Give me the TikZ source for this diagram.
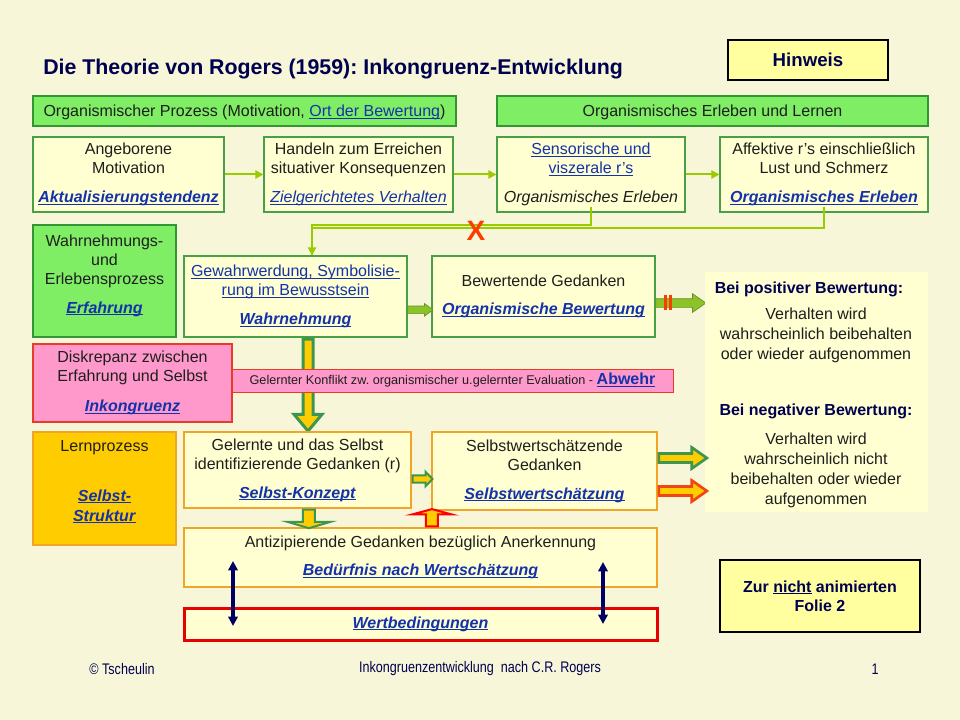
\documentclass[tikz,border=0pt]{standalone}
\usepackage{fontspec}
\setmainfont{Liberation Sans}
\newfontfamily\narrowfont[FakeStretch=0.82]{Liberation Sans}
\usetikzlibrary{arrows.meta,shapes.arrows}
\frenchspacing

\definecolor{bgcol}{RGB}{248,246,216}
\definecolor{boxfill}{RGB}{255,255,210}
\definecolor{hintfill}{RGB}{255,255,160}
\definecolor{barfill}{RGB}{128,238,100}
\definecolor{bargreen}{RGB}{50,150,50}
\definecolor{boxgreen}{RGB}{70,160,70}
\definecolor{boxorange}{RGB}{240,165,40}
\definecolor{lernfill}{RGB}{255,204,0}
\definecolor{pinkfill}{RGB}{255,153,204}
\definecolor{pinkline}{RGB}{230,60,40}
\definecolor{feedgreen}{RGB}{153,204,0}
\definecolor{linkblue}{RGB}{20,50,170}
\definecolor{navytxt}{RGB}{0,0,80}
\definecolor{txtcol}{RGB}{30,30,30}
\definecolor{crossred}{RGB}{255,60,0}
\definecolor{arrgreen}{RGB}{60,150,80}
\definecolor{arryellow}{RGB}{255,204,0}
\definecolor{arrlime}{RGB}{140,195,40}
\definecolor{arrred}{RGB}{240,70,20}
\definecolor{uparrred}{RGB}{255,0,0}
\definecolor{navyline}{RGB}{0,0,100}
\definecolor{wertred}{RGB}{230,0,0}

\newcommand\ulin[1]{\setbox0=\hbox{#1}\rlap{\rule[-1.4pt]{\wd0}{0.7pt}}\box0\relax}
\newcommand\lnk[1]{\textcolor{linkblue}{\ulin{#1}}}
\newcommand\lnkbi[1]{\textcolor{linkblue}{\ulin{\textbf{\textit{#1}}}}}

\tikzset{
	every node/.style={text=txtcol},
	wh/.style 2 args={minimum width=#1*0.75pt, minimum height=#2*0.75pt},
	box/.style={draw=boxgreen, fill=boxfill, line width=0.8pt, inner sep=0pt, align=center, font=\fontsize{12}{14.5}\selectfont},
	obox/.style={box, draw=boxorange},
	gbar/.style={box, draw=bargreen, fill=barfill, text height=11pt, text depth=2pt},
	hint/.style={draw=black, fill=hintfill, line width=0.8pt, align=center, text=navytxt, font=\bfseries\fontsize{12}{14.5}\selectfont},
	head/.style={text=navytxt, font=\bfseries\fontsize{12}{15}\selectfont},
	ptxt/.style={align=center, text=txtcol, font=\fontsize{12}{15}\selectfont},
	foot/.style={text=navytxt, font=\narrowfont\fontsize{11.5}{14}\selectfont},
	feed/.style={draw=feedgreen, line width=1.5pt},
	feedarr/.style={feed, -{Triangle[length=6pt,width=6pt]}},
	blk/.style={single arrow, inner xsep=0pt, anchor=tail},
	stopbar/.style={draw=crossred, line width=2pt},
	navyarr/.style={draw=navyline, line width=2.4pt, {Triangle[length=7pt,width=7pt]}-{Triangle[length=7pt,width=7pt]}},
}

\begin{document}
\begin{tikzpicture}[x=0.75pt, y=-0.75pt]
	\fill[bgcol] (0,0) rectangle (960,720);
	\useasboundingbox (0,0) rectangle (960,720);

	\node[anchor=west, inner sep=0pt, text=navytxt, font=\bfseries\fontsize{16}{19}\selectfont] (title) at (43,69) {Die Theorie von Rogers (1959): Inkongruenz-Entwicklung};
	\node[hint, wh={160}{40}, font=\bfseries\fontsize{14}{17}\selectfont] (hinweis) at (808,60) {Hinweis};

	% obere Reihe
	\node[gbar, wh={423}{30}] (orgL) at (244.5,111) {Organismischer Prozess (Motivation, \lnk{Ort der Bewertung})};
	\node[gbar, wh={431}{30}] (orgR) at (712.5,111) {Organismisches Erleben und Lernen};
	\node[box, wh={191}{75}] (angeb) at (128.5,174.5) {Angeborene\\Motivation\\[7pt]\lnkbi{Aktualisierungstendenz}};
	\node[box, wh={189}{75}] (handeln) at (358.5,174.5) {Handeln zum Erreichen\\situativer Konsequenzen\\[7pt]\lnk{\textit{Zielgerichtetes Verhalten}}};
	\node[box, wh={188}{75}] (sensor) at (591,174.5) {\lnk{Sensorische und}\\\lnk{viszerale r's}\\[7pt]\textit{Organismisches Erleben}};
	\node[box, wh={208}{75}] (affekt) at (824,174.5) {Affektive r's einschließlich\\Lust und Schmerz\\[7pt]\lnkbi{Organismisches Erleben}};
	\draw[feedarr] (angeb) -- (handeln);
	\draw[feedarr] (handeln) -- (sensor);
	\draw[feedarr] (sensor) -- (affekt);

	% Wahrnehmung und Bewertung
	\node[gbar, wh={143}{112}, text height=, text depth=] (wahrn) at (104.5,281) {};
	\node[ptxt, font=\fontsize{12}{14.25}\selectfont] (wahrntxt) at (104.5,276) {Wahrnehmungs-\\und\\Erlebensprozess\\[7pt]\lnkbi{Erfahrung}};
	\node[box, wh={223}{81}] (gew) at (295.5,296.5) {\lnk{Gewahrwerdung, Symbolisie-}\\\lnk{rung im Bewusstsein}\\[7pt]\lnkbi{Wahrnehmung}};
	\node[box, wh={223}{81}] (bew) at (543.5,296.5) {Bewertende Gedanken\\[7pt]\lnkbi{Organismische Bewertung}};

	\coordinate (bendC) at (312,225);
	\coordinate (bendD) at (312,228);
	\draw[feed] ([yshift=4.5pt]sensor.south) |- (bendC) -- (bendC |- gew.north);
	\draw[feedarr] ([yshift=4.5pt]affekt.south) |- (bendD) -- (bendD |- gew.north);
	\node[text=crossred, font=\bfseries\fontsize{21}{24}\selectfont] (cross) at (476,231) {X};

	\node[blk, draw=arrlime!75!black, fill=arrlime, line width=0.5pt, minimum height=18.75pt, inner ysep=2.6pt, single arrow head extend=1.9pt, single arrow tip angle=74] (gewarr) at ([yshift=-10pt]gew.east) {};
	\node[blk, draw=arrlime!75!black, fill=arrlime, line width=0.5pt, minimum height=37.5pt, inner ysep=3pt, single arrow head extend=3.75pt, single arrow tip angle=70] (bewarr) at ([yshift=-4.9pt]bew.east) {};
	\draw[stopbar] ([xshift=7.5pt,yshift=6pt]bewarr.tail) -- ++(0,-11pt);
	\draw[stopbar] ([xshift=11.25pt,yshift=6pt]bewarr.tail) -- ++(0,-11pt);

	% rechte Tafel
	\node[fill=boxfill, wh={223}{240}] (panel) at (816.5,392) {};
	\node[head] (poshead) at (809,289) {Bei positiver Bewertung:};
	\node[ptxt] (posbody) at (816,335) {Verhalten wird\\wahrscheinlich beibehalten\\oder wieder aufgenommen};
	\node[head] (neghead) at (816,411) {Bei negativer Bewertung:};
	\node[ptxt] (negbody) at (816,470) {Verhalten wird\\wahrscheinlich nicht\\beibehalten oder wieder\\aufgenommen};

	% Inkongruenz
	\node[box, draw=pinkline, fill=pinkfill, wh={199}{78}] (diskr) at (132.5,383) {Diskrepanz zwischen\\Erfahrung und Selbst\\[8pt]\lnkbi{Inkongruenz}};
	\node[blk, draw=arrgreen, fill=arryellow, line width=2.25pt, rotate=-90, minimum height=69pt, inner ysep=2.6pt, single arrow head extend=6.75pt, single arrow tip angle=80] (wahrarr) at ([xshift=9.4pt]gew.south) {};
	\node[draw=pinkline, fill=pinkfill, wh={441}{23}, inner sep=0pt, font=\fontsize{9.5}{11}\selectfont] (konflikt) at (452.5,380.5) {Gelernter Konflikt zw. organismischer u.gelernter Evaluation - \lnk{\textbf{\fontsize{12}{12}\selectfont Abwehr}}};

	% Selbst
	\node[obox, fill=lernfill, wh={143}{113}] (lern) at (104.5,488.5) {};
	\node[ptxt] (lerntxt) at (104.5,482) {Lernprozess\\[22pt]\lnkbi{Selbst-}\\\lnkbi{Struktur}};
	\node[obox, wh={227}{76}] (gel) at (297.5,470) {Gelernte und das Selbst\\identifizierende Gedanken (r)\\[7pt]\lnkbi{Selbst-Konzept}};
	\node[obox, wh={225}{78}] (sw) at (544.5,471) {Selbstwertschätzende\\Gedanken\\[7pt]\lnkbi{Selbstwertschätzung}};
	\node[blk, draw=arrgreen, fill=arryellow, line width=1.5pt, minimum height=15pt, inner ysep=2pt, single arrow head extend=2.6pt, single arrow tip angle=92] (gelarr) at ([yshift=-6.75pt]gel.east) {};
	\node[blk, draw=arrgreen, fill=arryellow, line width=2pt, minimum height=36pt, inner ysep=2.4pt, single arrow head extend=4.5pt, single arrow tip angle=70] (swarrA) at ([yshift=9.75pt]sw.east) {};
	\node[blk, draw=arrred, fill=arryellow, line width=2pt, minimum height=36pt, inner ysep=2.4pt, single arrow head extend=4.5pt, single arrow tip angle=70] (swarrB) at ([yshift=-15pt]sw.east) {};

	\node[obox, wh={473}{59}] (anti) at (420.5,557.5) {Antizipierende Gedanken bezüglich Anerkennung\\[7pt]\lnkbi{Bedürfnis nach Wertschätzung}};
	\node[blk, draw=arrgreen, fill=arryellow, line width=1.5pt, rotate=-90, minimum height=14pt, inner ysep=3.75pt, single arrow head extend=11.6pt, single arrow tip angle=147] (downarr) at ([xshift=8.6pt]gel.south) {};
	\node[blk, draw=uparrred, fill=arryellow, line width=1.5pt, rotate=90, minimum height=13pt, inner ysep=3.75pt, single arrow head extend=10.5pt, single arrow tip angle=150] (uparr) at ([xshift=8.6pt]anti.north) {};

	\node[box, draw=wertred, line width=2.25pt, wh={473}{32}] (wert) at (420.5,624) {\lnkbi{Wertbedingungen}};
	\coordinate (nl1) at (233,561);
	\coordinate (nl2) at (233,626);
	\coordinate (nr1) at (603,562);
	\coordinate (nr2) at (603,624);
	\draw[navyarr] (nl1) -- (nl2);
	\draw[navyarr] (nr1) -- (nr2);

	\node[hint, wh={200}{72}] (zur) at (820,596) {Zur \ulin{nicht} animierten\\Folie 2};

	% Fusszeile
	\node[foot] (copy) at (122,669) {© Tscheulin};
	\node[foot] (ftitle) at (480,669) {Inkongruenzentwicklung\ \ nach C.R. Rogers};
	\node[foot] (fnum) at (875,669) {1};
\end{tikzpicture}
\end{document}
